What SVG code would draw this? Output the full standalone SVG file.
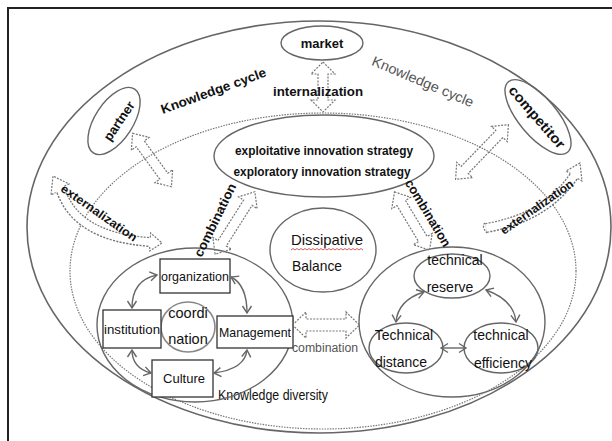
<svg xmlns="http://www.w3.org/2000/svg" width="612" height="441" viewBox="0 0 612 441">
<defs>
<style>
.t{font-family:"Liberation Sans",Arial,sans-serif;fill:#111;}
.b{font-weight:bold;}
.g{fill:#555;}
.sh{fill:none;stroke:#666;stroke-width:1.4;}
.box{fill:#fff;stroke:#333;stroke-width:1.3;}
.blk{fill:none;stroke:#777;stroke-width:1.2;stroke-dasharray:2 1.3;}
.cv{fill:none;stroke:#666;stroke-width:1.4;marker-start:url(#v);marker-end:url(#v);}
</style>
<marker id="v" markerUnits="userSpaceOnUse" markerWidth="12" markerHeight="12" refX="8" refY="6" orient="auto-start-reverse"><path d="M1,1.5 L8,6 L1,10.5" fill="none" stroke="#666" stroke-width="1.4"/></marker>
</defs>
<rect width="612" height="441" fill="#fff"/>
<path d="M8,441 V8 H612" fill="none" stroke="#222" stroke-width="2"/>
<g id="outer-cycle">
<ellipse cx="319" cy="227" rx="292" ry="206" fill="none" stroke="#666" stroke-width="1.6"/>
<ellipse cx="323" cy="271" rx="253" ry="158" fill="none" stroke="#777" stroke-width="1.2" stroke-dasharray="1.5 1.2"/>
<text class="t b" font-size="13" textLength="111" lengthAdjust="spacingAndGlyphs" text-anchor="middle" transform="translate(215,95) rotate(-20)">Knowledge cycle</text>
<text class="t g" font-size="14" textLength="109" lengthAdjust="spacingAndGlyphs" text-anchor="middle" transform="translate(421,86) rotate(23)">Knowledge cycle</text>
<text class="t" font-size="14" text-anchor="middle" x="273" y="400" textLength="110" lengthAdjust="spacingAndGlyphs">Knowledge diversity</text>
</g>
<g id="market">
<ellipse cx="322" cy="43" rx="41" ry="17" class="sh"/>
<text class="t b" font-size="13" text-anchor="middle" x="322" y="48">market</text>
</g>
<g id="partner">
<ellipse cx="114" cy="121" rx="38" ry="19" transform="rotate(-57 114 121)" class="sh"/>
<text class="t b" font-size="13" text-anchor="middle" transform="translate(119,121) rotate(-56)" y="4.5">partner</text>
</g>
<g id="competitor">
<ellipse cx="538" cy="117" rx="46" ry="19" transform="rotate(50 538 117)" class="sh"/>
<text class="t b" font-size="14" textLength="78" lengthAdjust="spacingAndGlyphs" text-anchor="middle" transform="translate(537,117) rotate(49)" y="5">competitor</text>
</g>
<g id="strategy">
<ellipse cx="324" cy="156" rx="110" ry="41" class="sh"/>
<text class="t b" font-size="12" text-anchor="middle" x="324" y="155" textLength="178" lengthAdjust="spacingAndGlyphs">exploitative innovation strategy</text>
<text class="t b" font-size="12" text-anchor="middle" x="322" y="176" textLength="177" lengthAdjust="spacingAndGlyphs">exploratory innovation strategy</text>
</g>
<g id="dissipative-balance">
<ellipse cx="323" cy="250" rx="53" ry="42" class="sh"/>
<text class="t" font-size="15" x="291" y="245" textLength="72" lengthAdjust="spacingAndGlyphs">Dissipative</text>
<path d="M291,250 l2,-1.5 l2,1.5 l2,-1.5 l2,1.5 l2,-1.5 l2,1.5 l2,-1.5 l2,1.5 l2,-1.5 l2,1.5 l2,-1.5 l2,1.5 l2,-1.5 l2,1.5 l2,-1.5 l2,1.5 l2,-1.5 l2,1.5 l2,-1.5 l2,1.5 l2,-1.5 l2,1.5 l2,-1.5 l2,1.5 l2,-1.5 l2,1.5 l2,-1.5 l2,1.5 l2,-1.5 l2,1.5 l2,-1.5 l2,1.5 l2,-1.5 l2,1.5 l2,-1.5 l2,1.5" fill="none" stroke="#c33" stroke-width="0.8"/>
<text class="t" font-size="15" x="292" y="271" textLength="50" lengthAdjust="spacingAndGlyphs">Balance</text>
</g>
<g id="organization-cluster">
<ellipse cx="195" cy="325" rx="98" ry="77" class="sh"/>
</g>
<g id="coordination">
<ellipse cx="188" cy="327" rx="27" ry="25" fill="#fff" stroke="#888" stroke-width="1.6"/>
<text class="t" font-size="14.5" text-anchor="middle" x="188" y="318">coordi</text>
<text class="t" font-size="14.5" text-anchor="middle" x="188" y="344">nation</text>
</g>
<g id="organization">
<rect x="160" y="259" width="70" height="34" class="box"/>
<text class="t" font-size="13" text-anchor="middle" x="195" y="281" textLength="68" lengthAdjust="spacingAndGlyphs">organization</text>
</g>
<g id="institution">
<rect x="103" y="310" width="58" height="38" class="box"/>
<text class="t" font-size="13" text-anchor="middle" x="132" y="334" textLength="56" lengthAdjust="spacingAndGlyphs">institution</text>
</g>
<g id="management">
<rect x="217" y="316" width="76" height="32" class="box"/>
<text class="t" font-size="13" text-anchor="middle" x="255" y="337" textLength="72" lengthAdjust="spacingAndGlyphs">Management</text>
</g>
<g id="culture">
<rect x="152" y="360" width="61" height="37" class="box"/>
<text class="t" font-size="13" text-anchor="middle" x="184" y="383">Culture</text>
</g>
<g id="technical-cluster">
<ellipse cx="452" cy="322" rx="93" ry="75" class="sh"/>
</g>
<g id="technical-reserve">
<ellipse cx="452" cy="276" rx="38" ry="22" class="sh"/>
<text class="t" font-size="14" text-anchor="middle" x="455" y="265">technical</text>
<text class="t" font-size="14" text-anchor="middle" x="450" y="292">reserve</text>
</g>
<g id="technical-distance">
<ellipse cx="406" cy="348" rx="37" ry="25" class="sh"/>
<text class="t" font-size="14" text-anchor="middle" x="404" y="340">Technical</text>
<text class="t" font-size="14" text-anchor="middle" x="401" y="367">distance</text>
</g>
<g id="technical-efficiency">
<ellipse cx="501" cy="348" rx="37" ry="25" class="sh"/>
<text class="t" font-size="14" text-anchor="middle" x="501" y="340">technical</text>
<text class="t" font-size="14" text-anchor="middle" x="503" y="368">efficiency</text>
</g>
<g id="connectors">
<path class="cv" d="M157,275 Q132,280 132,308"/>
<path class="cv" d="M231,277 Q247,285 247,313"/>
<path class="cv" d="M247,350 Q245,369 214,373"/>
<path class="cv" d="M151,373 Q132,368 132,350"/>
<path class="cv" d="M424,292 Q398,300 396,322"/>
<path class="cv" d="M486,290 Q514,300 516,322"/>
<path class="cv" d="M441,348 L466,348"/>
<polygon class="blk" transform="translate(323,87) rotate(90)" points="-25,0 -13,-12 -13,-5 13,-5 13,-12 25,0 13,12 13,5 -13,5 -13,12"/>
<polygon class="blk" transform="translate(152,160) rotate(54)" points="-33,0 -20,-11 -20,-5 20,-5 20,-11 33,0 20,11 20,5 -20,5 -20,11"/>
<polygon class="blk" transform="translate(482,152) rotate(134)" points="-38,0 -25,-11 -25,-5 25,-5 25,-11 38,0 25,11 25,5 -25,5 -25,11"/>
<polygon class="blk" transform="translate(235,223) rotate(-57.6)" points="-37,0 -24,-11 -24,-5 24,-5 24,-11 37,0 24,11 24,5 -24,5 -24,11"/>
<polygon class="blk" transform="translate(412,221) rotate(59)" points="-34,0 -21,-11 -21,-5 21,-5 21,-11 34,0 21,11 21,5 -21,5 -21,11"/>
<polygon class="blk" transform="translate(326,325)" points="-33.5,0 -20,-13 -20,-6 20,-6 20,-13 33.5,0 20,13 20,6 -20,6 -20,13"/>
<path d="M60,188 Q75,237 150,242" fill="none" stroke="#777" stroke-width="10" stroke-dasharray="2 1.3"/>
<path d="M60,188 Q75,237 150,242" fill="none" stroke="#fff" stroke-width="7.4"/>
<polygon points="65,186 69,184 53,176 51,195 56,192" fill="#fff"/>
<path class="blk" d="M64.4,186 L69,184 L53,176 L51,195 L55.6,192.5"/>
<polygon points="150,238 150,233 162,243 150,251 150,246" fill="#fff"/>
<path class="blk" d="M150.3,237.5 L150.6,233 L162,243 L149.8,251 L149.7,246.5"/>
<path d="M486,228 Q545,218 574,176" fill="none" stroke="#777" stroke-width="10" stroke-dasharray="2 1.3"/>
<path d="M486,228 Q545,218 574,176" fill="none" stroke="#fff" stroke-width="7.4"/>
<path class="blk" d="M485,223 Q481,226 487,233"/>
<polygon points="578,178.5 582,181 580,163 566,171 570,173.5" fill="#fff"/>
<path class="blk" d="M577.6,178.6 L582,181 L580,163 L566,171 L570.4,173.4"/>
<text class="t b" font-size="13" text-anchor="middle" x="318" y="96" textLength="90" lengthAdjust="spacingAndGlyphs">internalization</text>
<text class="t b" font-size="12" text-anchor="middle" transform="translate(99,213) rotate(35)" y="4" textLength="90" lengthAdjust="spacingAndGlyphs">externalization</text>
<text class="t b" font-size="12" text-anchor="middle" transform="translate(537,207) rotate(-35)" y="4" textLength="86" lengthAdjust="spacingAndGlyphs">externalization</text>
<text class="t b" font-size="13" text-anchor="middle" transform="translate(215,220) rotate(-64)" y="4.5" textLength="80" lengthAdjust="spacingAndGlyphs">combination</text>
<text class="t b" font-size="13" text-anchor="middle" transform="translate(428,213) rotate(59)" y="4.5" textLength="76" lengthAdjust="spacingAndGlyphs">combination</text>
<text class="t g" font-size="12.5" text-anchor="middle" x="325" y="352" textLength="66" lengthAdjust="spacingAndGlyphs">combination</text>
</g>
</svg>
